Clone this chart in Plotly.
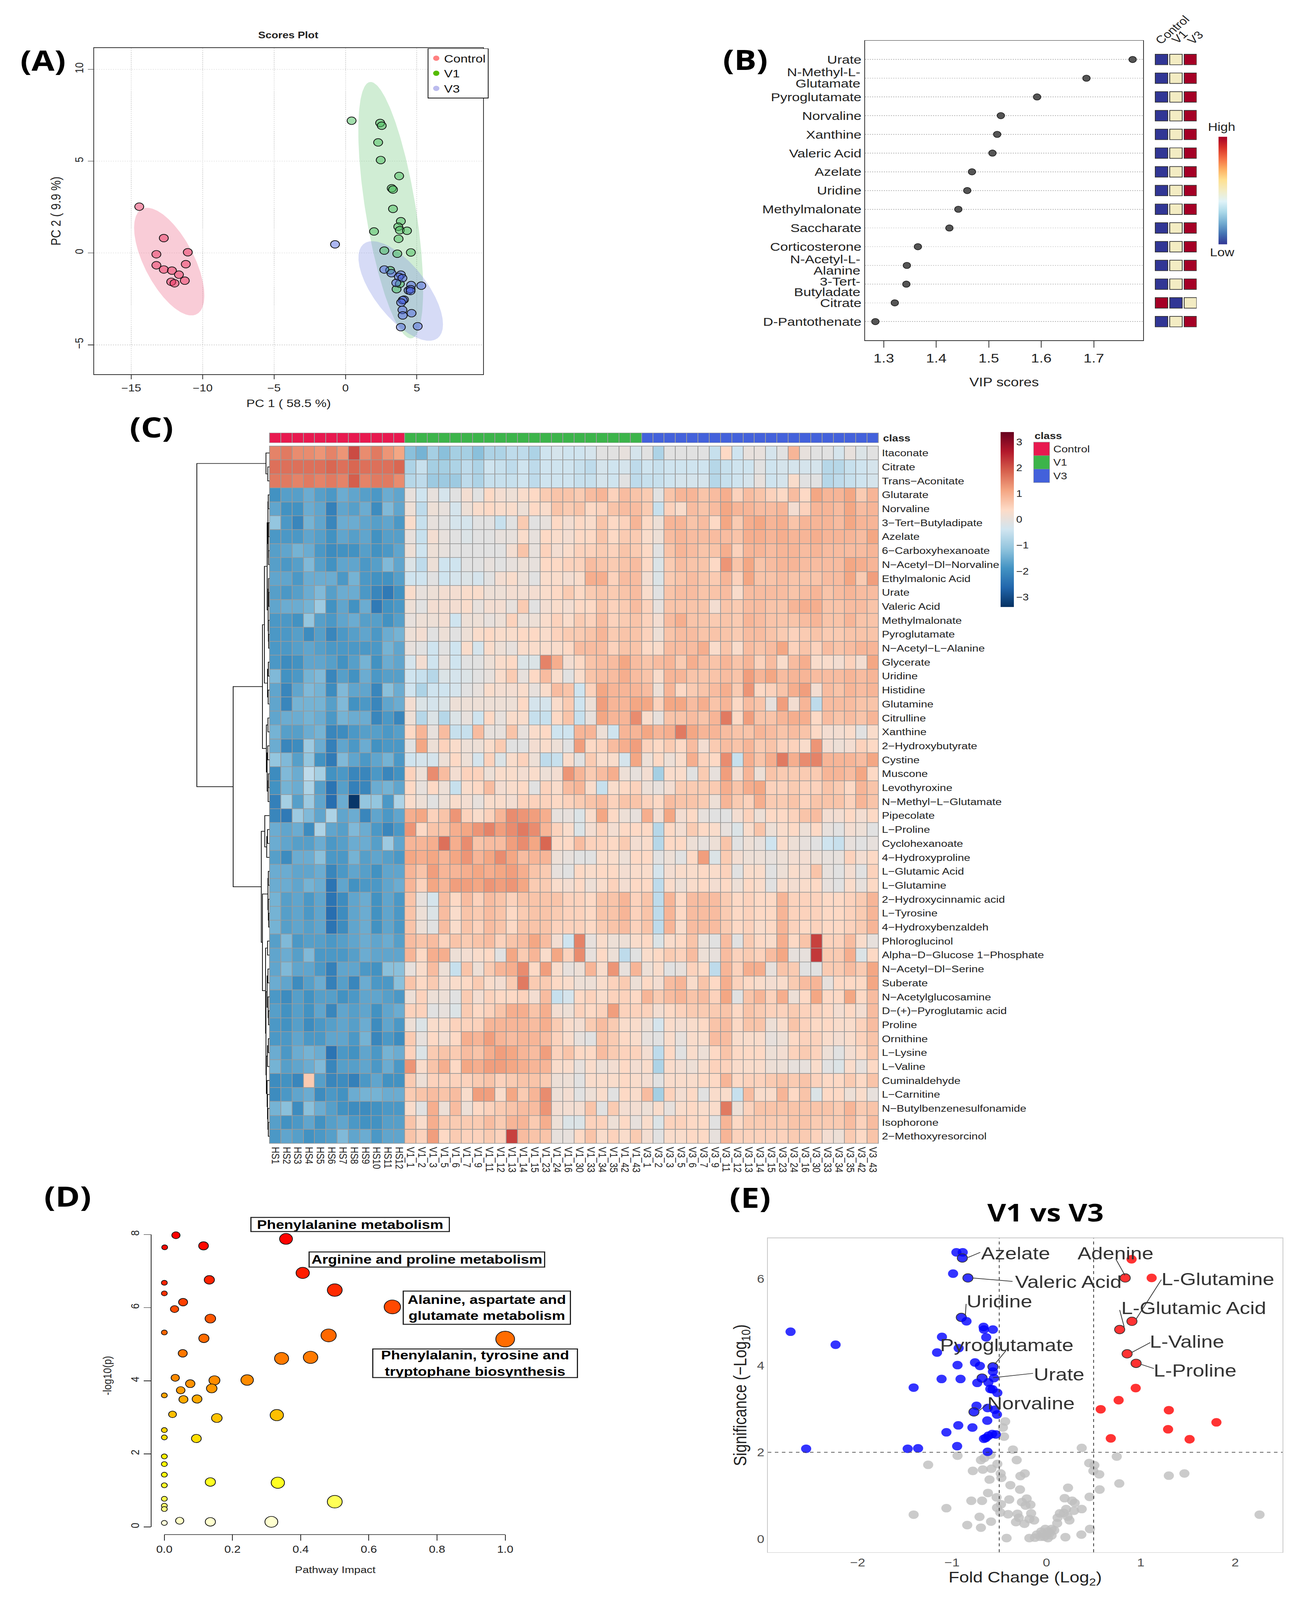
import numpy as np
import plotly.graph_objects as go

W, H = 3344, 4866
FONT = "Liberation Sans"
BOLD = "Open Sans"

# ---------- Panel A: PCA scores ----------
ctrl_pc1 = [-14.44,-12.72,-13.24,-11.04,-13.24,-12.72,-12.15,-11.18,-11.66,-12.2,-11.97,-11.25]
ctrl_pc2 = [2.52,0.81,-0.07,0.04,-0.67,-0.90,-0.96,-0.61,-1.18,-1.57,-1.65,-1.51]
v1_pc1 = [0.43,2.43,2.54,2.29,2.47,3.76,3.24,3.33,3.33,3.88,3.70,3.81,4.31,2.0,3.72,2.72,3.63,4.58,3.13,3.58,3.81]
v1_pc2 = [7.2,7.08,6.93,6.02,5.06,4.19,3.52,3.45,2.40,1.73,1.43,1.24,1.21,1.17,0.77,0.13,-0.04,0.03,-0.94,-1.97,-1.68]
v3_pc1 = [-0.73,2.72,3.22,3.88,3.74,3.99,3.56,4.6,5.31,4.42,4.56,4.56,4.10,4.01,3.90,3.99,4.01,4.63,3.88,5.06]
v3_pc2 = [0.47,-0.90,-1.10,-1.18,-1.30,-1.37,-1.63,-1.75,-1.78,-2.04,-1.97,-2.07,-2.54,-2.57,-2.70,-3.10,-3.40,-3.28,-4.04,-3.99]
# 95% region of each group: centre x, centre y, half-width, half-height, correlation
ctrl_region = (-12.34, -0.47, 2.46, 2.93, -0.63)
v1_region = (3.17, 2.33, 2.27, 6.98, -0.62)
v3_region = (3.87, -2.07, 2.96, 2.71, -0.67)

# ---------- Panel B: VIP scores ----------
vip_names = ["Urate","N-Methyl-L-|Glutamate","Pyroglutamate","Norvaline","Xanthine","Valeric Acid","Azelate","Uridine",
             "Methylmalonate","Saccharate","Corticosterone","N-Acetyl-L-|Alanine","3-Tert-|Butyladate","Citrate","D-Pantothenate"]
vip_scores = [1.774,1.686,1.592,1.523,1.516,1.507,1.468,1.459,1.442,1.425,1.365,1.344,1.343,1.321,1.284]
vip_control = [0,0,0,0,0,0,0,0,0,0,0,0,0,1,0]
vip_v1 = [.5,.5,.5,.5,.5,.5,.5,.5,.5,.5,.5,.5,.5,0,.5]
vip_v3 = [1,1,1,1,1,1,1,1,1,1,1,1,1,.5,1]

# ---------- Panel C: heatmap (z-scores x10) ----------
metabolites = ["Itaconate","Citrate","Trans−Aconitate","Glutarate","Norvaline","3−Tert−Butyladipate","Azelate","6−Carboxyhexanoate",
 "N−Acetyl−Dl−Norvaline","Ethylmalonic Acid","Urate","Valeric Acid","Methylmalonate","Pyroglutamate","N−Acetyl−L−Alanine","Glycerate",
 "Uridine","Histidine","Glutamine","Citrulline","Xanthine","2−Hydroxybutyrate","Cystine","Muscone","Levothyroxine","N−Methyl−L−Glutamate",
 "Pipecolate","L−Proline","Cyclohexanoate","4−Hydroxyproline","L−Glutamic Acid","L−Glutamine","2−Hydroxycinnamic acid","L−Tyrosine",
 "4−Hydroxybenzaldeh","Phloroglucinol","Alpha−D−Glucose 1−Phosphate","N−Acetyl−Dl−Serine","Suberate","N−Acetylglucosamine",
 "D−(+)−Pyroglutamic acid","Proline","Ornithine","L−Lysine","L−Valine","Cuminaldehyde","L−Carnitine","N−Butylbenzenesulfonamide",
 "Isophorone","2−Methoxyresorcinol"]
sample_ids = ["1","2","3","5","6","7","9","11","12","13","14","15","23","24","16","30","33","34","35","42","43"]
samples = ["HS%d" % i for i in range(1, 13)] + ["V1_" + s for s in sample_ids] + ["V3_" + s for s in sample_ids]
sample_class = [0]*12 + [1]*21 + [2]*21

hs_vals = [
[15,16,14,14,13,15,13,21,14,16,13,11],
[17,17,17,17,17,18,17,18,17,17,17,18],
[16,16,15,16,15,16,15,19,15,16,16,14],
[-19,-17,-17,-15,-17,-18,-15,-16,-17,-18,-15,-16],
[-16,-19,-19,-15,-16,-22,-16,-17,-15,-20,-13,-16],
[-11,-18,-21,-14,-16,-21,-15,-15,-16,-17,-16,-18],
[-18,-18,-18,-16,-17,-19,-16,-17,-16,-19,-17,-17],
[-17,-16,-14,-15,-18,-20,-19,-19,-17,-19,-18,-16],
[-17,-18,-17,-13,-17,-19,-16,-16,-18,-17,-13,-16],
[-16,-16,-18,-15,-15,-15,-18,-14,-18,-19,-19,-17],
[-17,-18,-17,-15,-13,-17,-15,-15,-18,-21,-23,-19],
[-16,-15,-15,-14,-10,-19,-16,-19,-15,-23,-19,-18],
[-18,-18,-19,-11,-17,-18,-16,-15,-17,-17,-19,-17],
[-18,-18,-17,-20,-17,-21,-18,-17,-16,-18,-15,-14],
[-18,-18,-17,-16,-17,-18,-18,-18,-18,-18,-14,-16],
[-18,-20,-19,-16,-16,-17,-19,-17,-14,-19,-15,-16],
[-13,-19,-18,-14,-13,-21,-17,-19,-15,-18,-17,-17],
[-16,-21,-16,-13,-14,-20,-13,-16,-16,-21,-12,-15],
[-16,-21,-14,-14,-14,-17,-13,-19,-18,-21,-16,-15],
[-16,-15,-15,-14,-15,-18,-14,-15,-15,-21,-18,-21],
[-14,-17,-17,-15,-14,-21,-20,-18,-17,-17,-18,-17],
[-15,-21,-20,-10,-15,-22,-16,-18,-15,-19,-18,-18],
[-11,-13,-17,-11,-19,-23,-13,-16,-18,-16,-14,-18],
[-20,-13,-15,-6,-9,-19,-18,-21,-21,-18,-21,-19],
[-19,-14,-15,-8,-17,-24,-17,-22,-21,-15,-14,-16],
[-22,-9,-17,-10,-16,-25,-15,-33,-11,-11,-18,-8],
[-21,-23,-10,-13,-16,-8,-16,-15,-21,-16,-18,-16],
[-15,-16,-15,-20,-8,-16,-17,-13,-15,-18,-21,-18],
[-15,-16,-17,-17,-15,-18,-17,-15,-15,-17,-10,-16],
[-17,-20,-15,-15,-12,-18,-18,-14,-17,-16,-17,-18],
[-15,-15,-16,-16,-15,-21,-18,-16,-17,-19,-16,-16],
[-15,-15,-16,-14,-15,-24,-16,-19,-18,-18,-16,-15],
[-14,-17,-16,-18,-16,-24,-20,-16,-15,-19,-16,-18],
[-14,-17,-16,-18,-16,-25,-20,-16,-15,-19,-16,-18],
[-14,-17,-16,-17,-16,-24,-20,-16,-15,-19,-16,-18],
[-17,-13,-18,-17,-17,-18,-17,-16,-15,-16,-15,-17],
[-16,-15,-17,-13,-18,-18,-18,-17,-15,-16,-16,-16],
[-16,-13,-16,-16,-18,-22,-16,-16,-18,-19,-12,-12],
[-15,-16,-20,-17,-15,-22,-17,-21,-15,-18,-18,-12],
[-18,-20,-17,-19,-17,-17,-19,-18,-16,-16,-17,-18],
[-17,-19,-17,-19,-16,-21,-16,-17,-16,-19,-16,-15],
[-18,-19,-17,-20,-18,-17,-16,-17,-15,-20,-16,-18],
[-18,-18,-16,-18,-18,-16,-16,-18,-14,-21,-18,-20],
[-15,-18,-15,-14,-15,-24,-18,-19,-16,-18,-14,-15],
[-14,-17,-16,-15,-13,-21,-17,-17,-16,-18,-15,-18],
[-20,-19,-21,6,-17,-21,-20,-22,-18,-16,-19,-19],
[-20,-18,-16,-15,-20,-18,-19,-15,-14,-14,-15,-15],
[-14,-12,-20,-12,-15,-17,-19,-20,-20,-19,-18,-18],
[-17,-19,-18,-16,-19,-17,-16,-18,-19,-19,-17,-17],
[-18,-16,-17,-19,-18,-17,-13,-16,-15,-18,-16,-16],
]
v1_vals = [
[-12,-14,-9,-12,-9,-9,-12,-8,-8,-6,-6,-8,-4,-3,-4,-4,-3,-1,-1,0,-3],
[-8,-5,-9,-9,-8,-6,-8,-4,-5,-6,-4,-6,-4,-4,-4,-5,-6,-3,-4,-3,-6],
[-7,-6,-10,-10,-10,-6,-8,-5,-5,-5,-4,-6,-4,-4,-4,-5,-5,-3,-4,-1,-6],
[0,-4,0,-3,-1,2,-1,4,2,1,3,4,6,7,7,6,8,9,5,8,7],
[1,-6,1,0,-3,1,3,4,3,3,1,4,3,7,6,7,4,5,7,8,8],
[3,-5,0,-1,-3,-3,-1,-1,-5,-1,6,-1,0,4,2,4,3,7,4,5,9],
[0,-5,2,0,-1,-2,-1,-1,0,0,3,0,4,3,2,4,4,7,4,6,6],
[1,-4,1,0,-1,-1,-1,-1,-1,2,7,0,5,2,3,5,5,6,5,7,6],
[-2,-6,1,-4,-4,-1,-1,0,-1,0,1,0,4,4,5,5,8,7,6,7,8],
[-4,-4,-1,-4,-3,-2,-3,-1,2,3,1,-1,3,3,2,3,10,10,5,8,8],
[3,0,1,2,2,3,3,1,1,2,2,2,3,4,6,4,6,7,6,7,8],
[1,-1,2,2,2,3,0,2,2,0,6,-1,2,3,2,4,4,7,5,6,8],
[0,1,1,2,-4,1,1,0,1,5,1,1,3,5,3,6,5,8,5,6,7],
[1,2,-1,1,-1,1,3,4,3,3,4,4,3,5,6,6,7,9,6,7,7],
[0,-1,-4,-1,-4,3,-3,3,1,0,3,3,3,3,4,8,8,8,5,7,7],
[-3,2,-4,0,-4,-1,-1,1,3,4,-2,-2,15,10,2,4,7,8,8,11,8],
[-4,-5,-7,-2,-3,-2,-1,0,3,6,0,4,8,3,-1,3,7,8,8,10,8],
[-4,-8,-4,-4,-3,-1,0,3,2,2,3,0,3,8,7,-4,5,11,9,9,9],
[2,-2,-3,-2,1,1,1,1,1,1,4,-3,-3,3,6,-4,1,12,9,9,11],
[1,-7,-2,-7,-2,0,-4,4,0,3,3,-5,-5,4,7,-5,0,11,9,9,14],
[4,9,0,8,-5,-5,8,0,0,7,0,3,4,-4,-4,9,9,1,-4,9,9],
[-1,11,1,5,3,1,1,3,6,-1,-1,2,3,1,-1,12,4,5,8,10,12],
[-4,-3,-3,1,4,1,-3,5,-2,3,5,1,-6,-5,3,-1,6,3,3,-3,11],
[5,1,14,8,2,5,5,1,3,3,2,3,1,2,13,9,6,8,10,1,0],
[4,0,4,1,-5,3,4,8,2,3,4,-1,5,3,8,9,3,-5,3,4,5],
[3,1,-1,1,3,2,0,3,3,2,5,5,5,4,5,6,7,8,5,7,7],
[10,11,5,7,13,5,3,5,9,14,13,12,10,0,0,-2,3,11,4,1,0],
[13,4,7,7,10,11,13,15,12,14,16,14,9,5,3,-2,2,5,2,4,4],
[9,9,10,17,10,14,7,8,8,12,14,11,18,4,4,8,5,5,4,6,2],
[11,10,11,9,11,13,9,11,14,11,8,9,9,1,0,-1,-1,3,3,1,4],
[9,7,12,9,9,10,11,10,11,12,10,7,6,0,-1,4,3,4,4,2,3],
[9,5,11,9,12,12,11,13,12,13,11,6,6,3,2,4,1,3,5,2,4],
[7,0,-3,8,4,8,5,8,7,5,7,7,7,7,5,5,4,7,7,9,5],
[7,1,-2,8,3,7,6,8,7,4,6,7,7,6,5,5,4,7,7,9,5],
[7,1,-1,8,3,7,5,8,7,4,7,7,7,5,5,5,4,6,7,8,5],
[8,7,8,5,7,6,7,8,5,7,8,11,8,2,-4,15,0,3,1,1,3],
[9,4,10,10,1,2,3,4,-1,11,6,9,3,11,5,14,0,4,1,-6,-1],
[0,3,8,1,-5,7,1,6,9,10,14,4,12,3,0,1,9,3,13,0,9],
[7,4,6,2,3,4,6,3,2,6,16,6,6,4,3,1,1,3,5,6,1],
[1,5,1,1,-1,6,2,5,4,4,5,2,8,-5,-3,4,5,3,5,5,4],
[5,5,-1,0,-2,6,4,5,7,10,10,7,10,2,1,5,4,5,12,5,5],
[1,-2,3,3,5,5,5,9,9,9,9,8,10,6,3,2,6,8,6,3,3],
[6,0,4,2,4,10,9,12,9,8,9,9,8,5,3,0,-1,7,6,4,3],
[5,-2,6,7,6,8,7,10,12,11,9,8,12,5,7,4,4,8,6,5,5],
[13,3,7,10,4,11,10,12,12,11,10,9,9,3,3,0,3,1,2,4,2],
[6,1,5,5,5,5,6,7,5,6,7,7,6,1,1,-1,3,3,3,4,3],
[6,7,8,7,8,3,12,12,3,11,6,9,14,1,2,-1,1,3,-1,4,3],
[3,-1,10,1,8,1,4,5,6,7,8,8,13,2,2,2,7,-1,6,2,2],
[7,3,10,6,6,6,6,8,6,9,9,6,10,1,-2,-2,5,5,1,4,0],
[7,5,12,4,6,5,5,6,5,22,8,7,7,0,0,4,7,3,5,3,6],
]
v3_vals = [
[-1,-8,-1,-1,-1,-1,-5,4,-4,0,0,-3,-1,9,0,-1,-1,-3,0,-2,-1],
[-4,-5,-4,-4,-4,-4,-7,-5,-4,-4,-1,-4,-3,-3,-3,-3,-7,-7,-5,-4,-3],
[-5,-5,-4,-3,-3,-3,-7,-5,-4,-3,0,-4,-3,3,-1,-1,-7,-6,-5,-4,-3],
[6,-1,7,9,9,7,8,10,5,8,7,5,4,8,4,11,9,9,11,6,9],
[6,-5,5,3,8,7,8,11,9,9,8,8,9,2,5,9,9,8,11,8,9],
[4,1,9,9,7,8,4,11,6,10,11,9,10,7,9,9,9,8,11,9,9],
[3,1,8,9,8,8,8,8,7,10,10,9,10,9,9,10,9,9,9,8,11],
[4,-1,7,9,8,7,7,10,5,9,9,8,9,9,8,9,8,8,8,8,9],
[4,-2,6,8,7,7,4,13,7,11,7,8,9,9,8,8,8,8,11,10,9],
[2,-2,6,7,8,7,6,9,5,11,7,7,8,7,7,7,8,8,11,6,12],
[3,-1,7,8,8,7,7,8,3,8,8,8,8,7,8,9,7,8,9,8,8],
[5,0,7,7,7,7,2,7,6,8,8,7,7,9,10,10,7,7,8,8,7],
[5,2,8,10,7,7,6,7,6,9,8,7,7,7,8,9,7,7,9,7,7],
[5,1,7,8,8,7,7,7,6,8,8,7,6,5,6,7,6,6,7,7,7],
[4,3,8,8,8,10,3,7,3,8,7,8,11,5,7,5,8,7,8,9,9],
[7,8,9,6,10,8,7,9,7,9,5,8,3,8,10,3,3,2,5,2,11],
[7,3,9,9,7,7,7,8,7,12,9,11,8,9,9,8,8,8,9,8,9],
[8,1,9,4,6,7,8,10,6,13,4,5,7,10,12,2,8,7,9,8,9],
[11,5,11,11,8,10,7,9,4,8,7,0,12,2,9,-6,8,8,8,7,7],
[3,0,7,7,8,7,9,16,4,12,7,7,9,10,10,4,8,7,8,7,9],
[11,9,10,16,11,9,9,8,7,7,9,8,7,8,7,4,2,2,3,-1,3],
[5,4,6,4,8,2,6,8,7,9,6,7,5,5,3,13,2,1,2,5,4],
[1,4,1,3,10,5,4,14,-5,10,7,10,16,10,14,15,9,9,9,8,11],
[2,-9,3,3,-1,6,0,12,2,9,1,7,6,6,6,6,9,9,8,11,4],
[1,0,2,6,6,6,6,10,7,10,11,5,5,6,5,5,7,6,4,9,7],
[5,4,8,7,7,6,1,9,6,5,10,6,6,7,5,7,7,7,5,9,7],
[10,2,11,2,4,0,-1,-1,2,5,1,4,4,5,7,8,2,2,4,2,4],
[4,-7,4,2,6,4,3,0,-2,3,7,1,3,4,1,4,0,-1,2,1,-1],
[3,-7,4,4,1,0,1,7,-1,1,0,-4,3,1,0,-1,-4,-5,0,-1,0],
[4,-1,1,-1,4,12,-2,6,2,1,1,0,1,2,2,1,0,0,5,2,4],
[3,-3,2,3,3,4,3,5,-1,3,3,-1,1,3,2,7,0,-1,2,-1,5],
[4,-6,3,1,3,4,2,4,1,4,3,-1,3,2,3,4,0,-1,3,0,4],
[7,-6,9,4,8,8,8,6,4,5,4,4,9,5,5,5,4,4,5,6,9],
[7,-6,9,4,8,8,8,6,4,5,4,4,9,5,5,5,4,4,5,6,9],
[7,-6,9,3,8,8,8,6,4,5,3,4,9,5,4,5,4,4,5,6,9],
[4,-2,3,4,7,1,-1,8,-1,6,4,3,10,4,7,22,5,5,8,3,0],
[3,4,6,5,8,1,0,8,5,6,5,8,11,0,0,23,6,6,10,-2,4],
[1,3,-1,0,5,4,-6,9,5,10,10,0,7,6,-1,-1,6,6,8,6,11],
[4,2,8,9,3,7,4,10,5,4,3,2,3,6,8,9,0,4,4,4,11],
[9,6,8,9,7,8,5,11,-1,7,9,5,10,1,4,11,4,4,11,4,8],
[5,2,4,5,6,6,6,7,4,7,6,5,5,6,5,5,4,2,4,2,8],
[1,-3,3,2,3,4,7,8,4,7,7,1,3,7,5,4,4,3,3,5,8],
[0,-1,3,0,3,3,8,8,3,3,3,0,1,4,5,5,3,2,3,5,7],
[2,-6,4,-1,3,1,4,7,4,4,4,1,2,5,6,5,1,-1,2,4,7],
[3,-8,3,2,1,3,5,5,3,3,3,1,1,0,0,3,-1,-2,3,0,4],
[2,-1,3,3,3,4,4,9,4,5,5,6,7,6,7,5,4,4,6,4,7],
[8,-9,5,2,4,-1,3,3,-5,8,3,3,9,4,7,-2,4,4,1,3,0],
[1,3,0,3,4,3,3,16,1,5,7,7,7,7,7,7,7,6,9,6,7],
[3,-2,5,5,4,4,-1,9,4,6,6,6,6,7,7,6,6,6,8,5,8],
[2,-1,3,3,4,4,0,9,5,5,5,5,5,6,6,5,2,1,6,4,7],
]
# dendrogram: (merge height, left, right), leaves are row numbers
top_tree = (9, 0, (4.4, 1, 2))
upper_a = (13, (6, (4, (3.2, 3, 4), (3, (2.4, 5, 6), (2.6, 7, 8))),
                (3.5, (2.6, 9, (2, 10, 11)), (2.8, 12, (2.2, 13, 14)))),
           (5, (3, 15, 16), (3.4, 17, 18)))
upper_b = (8, (4, 19, 20), (6, (4.5, 21, 22), (3.5, (2.8, 23, 24), 25)))
lower_c = (12, 26, (7, (5, 27, 28), 29))
lower_d = (18, (4, (3, 30, 31), (3, 32, (2, 33, 34))),
           (10, (5, 35, 36), (9, (6, (4, 37, 38), (3.5, 39, (2.5, 40, 41))),
                              (8, (5, (3, 42, 43), 44), (6, 45, (5, 46, (4, 47, (3, 48, 49))))))))
row_tree = (186, top_tree, (93, (18, upper_a, upper_b), (21, lower_c, lower_d)))

# ---------- Panel D: pathway analysis ----------
path_impact = [.034,.001,.115,.357,.406,.5,.132,0,0,.055,.03,.135,.669,0,.116,.482,1.0,.054,.344,.429,.032,.076,.147,.243,.048,.139,0,.056,.096,.024,.154,.33,0,0,.094,0,0,0,0,.135,.333,0,.5,0,0,0,.045,.135,.314]
path_logp = [7.98,7.65,7.69,7.88,6.95,6.48,6.76,6.68,6.39,6.15,5.96,5.70,6.02,5.32,5.16,5.24,5.14,4.75,4.61,4.64,4.08,3.92,4.01,4.02,3.74,3.79,3.60,3.49,3.50,3.08,2.98,3.06,2.65,2.45,2.42,1.93,1.72,1.43,1.14,1.23,1.21,.77,.69,.58,.49,.11,.17,.14,.14]
path_size = [21,15,25,33,34,38,26,15,15,23,21,27,42,15,26,39,48,23,36,37,21,24,28,32,22,27,15,23,25,20,27,34,15,15,25,15,15,15,15,26,34,15,38,15,15,15,21,26,33]
path_labels = ["Phenylalanine metabolism","Arginine and proline metabolism","Alanine, aspartate and<br>glutamate metabolism","Phenylalanin, tyrosine and<br>tryptophane biosynthesis"]

# ---------- Panel E: volcano ----------
blue_fc = [-.954,-.887,-.891,-.989,-.832,-.902,-.847,-.666,-.662,-.567,-.638,-1.107,-2.711,-2.234,-1.159,-.93,-.757,-.705,-.942,-.567,-.567,-.556,-.682,-1.111,-.91,-.733,-.615,-1.407,-.595,-.571,-.52,-.741,-.623,-.548,-.768,-.524,-.627,-.934,-.784,-1.06,-.575,-.536,-.615,-.642,-.662,-.946,-1.36,-1.47,-2.546,-.623]
blue_sig = [6.61,6.61,6.48,6.12,6.02,5.11,5.02,4.89,4.83,4.83,4.65,4.66,4.78,4.48,4.30,4.40,4.07,3.99,4.01,3.97,3.86,3.71,3.71,3.69,3.69,3.60,3.61,3.49,3.46,3.45,3.37,3.07,3.02,2.98,2.93,2.87,2.73,2.62,2.57,2.46,2.42,2.41,2.38,2.33,2.31,2.14,2.09,2.08,2.08,2.01]
blue_labelled = [2,4,5,19,22,34]
red_fc = [.902,.835,1.115,.906,.776,.855,.95,.946,.765,.575,1.297,1.801,1.289,.682,1.517]
red_sig = [6.45,6.02,6.02,5.02,4.83,4.27,4.05,3.48,3.20,2.99,2.97,2.69,2.53,2.32,2.30]
red_labelled = [1,3,4,5,6]
grey_fc = [-.942,-.591,-.355,-.437,-.461,-.449,.374,.745,-.315,-.658,-.694,-.52,-1.253,.453,.508,-.78,-.674,-.583,-.485,-.477,-.229,-.276,.497,.56,1.297,1.462,-.603,.772,-.382,.229,-.28,.564,-.619,-.528,.457,.193,-.209,-.394,-.796,-.682,-.26,.272,.3,-.169,-.221,-.481,-.524,-1.06,.209,.374,.292,-.489,-.162,-1.407,2.258,-.709,-.406,-.307,.142,.185,.118,.225,.244,-.13,-.181,-.292,-.323,-.587,-.233,-.839,-.694,.114,.461,.083,.055,-.012,-.055,-.102,.37,.201,-.422,-.181,-.122,-.004,.016,-.024,.055,.035,-.063,-.043,.016]
grey_sig = [1.92,1.94,2.06,2.71,2.57,2.36,2.10,1.90,1.82,1.87,1.82,1.73,1.71,1.75,1.70,1.57,1.60,1.62,1.51,1.41,1.51,1.45,1.57,1.49,1.46,1.51,1.37,1.28,1.24,1.18,1.14,1.14,1.06,.96,.97,.94,.93,.91,.88,.88,.85,.88,.83,.79,.77,.80,.72,.71,.69,.69,.65,.61,.59,.56,.56,.51,.57,.58,.59,.60,.49,.51,.43,.43,.46,.49,.39,.40,.35,.32,.26,.36,.23,.20,.23,.23,.17,.10,.10,.04,.02,.02,.03,.08,.02,.05,.08,.14,.05,.12,.17]
# name, text x, text y, connector start x, y, connector end x, y
volcano_labels = [
 ("Azelate",-.327,6.59,-.701,6.61,-.832,6.49),
 ("Adenine",.733,6.59,.737,6.45,.832,6.08),
 ("Valeric Acid",.233,5.93,-.359,5.94,-.784,6.02),
 ("L-Glutamine",1.817,6.0,1.218,5.98,.95,5.07),
 ("Uridine",-.497,5.48,-.851,5.42,-.859,5.16),
 ("L-Glutamic Acid",1.561,5.33,.776,5.28,.824,4.89),
 ("L-Valine",1.49,4.56,1.10,4.53,.902,4.30),
 ("Pyroglutamate",-.418,4.47,-.43,4.34,-.548,4.03),
 ("L-Proline",1.576,3.89,1.139,3.93,1.0,4.03),
 ("Urate",.134,3.80,-.142,3.82,-.564,3.72),
 ("Norvaline",-.162,3.13,-.627,3.11,-.713,2.96),
]

# ---------- helpers ----------
for name, rows, n in (("hs", hs_vals, 12), ("v1", v1_vals, 21), ("v3", v3_vals, 21)):
    bad = [i for i, r in enumerate(rows) if len(r) != n]
    assert len(rows) == 50 and not bad, (name, len(rows), bad)

def dx(a, b): return [a / W, b / W]
def dy(top, bottom): return [1 - bottom / H, 1 - top / H]
def tf(size, color="#222", family=FONT): return dict(size=size, color=color, family=family)

annotations, shapes = [], []
def text(px, py, s, size, color="#222", family=FONT, angle=0, xa="center", ya="middle", **kw):
    annotations.append(dict(xref="paper", yref="paper", x=px / W, y=1 - py / H, text=s, showarrow=False,
                            font=tf(size, color, family), textangle=angle, xanchor=xa, yanchor=ya, **kw))

def region(params):
    cx, cy, ax, ay, rho = params
    t = np.linspace(0, 2 * np.pi, 200)
    return cx + ax * np.cos(t), cy + ay * (rho * np.cos(t) + np.sqrt(1 - rho ** 2) * np.sin(t))

fig = go.Figure()

# ---------- A ----------
for params, col in ((ctrl_region, "rgba(238,120,150,0.38)"), (v1_region, "rgba(110,200,120,0.32)"), (v3_region, "rgba(120,135,225,0.30)")):
    ex, ey = region(params)
    fig.add_trace(go.Scatter(x=ex, y=ey, mode="lines", fill="toself", fillcolor=col, line=dict(width=0), showlegend=False, hoverinfo="skip"))
for xs, ys, col in ((ctrl_pc1, ctrl_pc2, "rgba(235,50,95,0.5)"), (v1_pc1, v1_pc2, "rgba(70,190,90,0.5)"), (v3_pc1, v3_pc2, "rgba(70,95,225,0.45)")):
    fig.add_trace(go.Scatter(x=xs, y=ys, mode="markers", showlegend=False,
                             marker=dict(size=23, color=col, line=dict(color="#111", width=2))))
for nm, col in (("Control", "#ff8080"), ("V1", "#55bb00"), ("V3", "#bbbbee")):
    fig.add_trace(go.Scatter(x=[None], y=[None], mode="markers", name=nm, marker=dict(size=24, color=col)))

axis_a = dict(showline=True, mirror=True, linecolor="#333", linewidth=2, ticks="outside", ticklen=14, tickcolor="#333", tickwidth=2,
              showgrid=True, gridcolor="#d5d5d5", griddash="dot", gridwidth=2, zeroline=False, tickfont=tf(30))
fig.update_layout(
    xaxis=dict(domain=dx(241, 1237), range=[-17.6, 9.64], tickvals=[-15, -10, -5, 0, 5], anchor="y",
               title=dict(text="PC 1 ( 58.5 %)", font=tf(33), standoff=20), **axis_a),
    yaxis=dict(domain=dy(146, 1138), range=[-6.6, 11.16], tickvals=[-5, 0, 5, 10], tickangle=-90, anchor="x",
               title=dict(text="PC 2 ( 9.9 %)", font=tf(35), standoff=20), **axis_a),
)
text(738, 106, "<b>Scores Plot</b>", 28)
text(110, 182, "<b>(A)</b>", 85, "#000", BOLD)

# ---------- B ----------
vip_rows = list(range(15, 0, -1))
single_rows = [r for r, n in zip(vip_rows, vip_names) if "|" not in n]
single_names = [n for n in vip_names if "|" not in n]
double_rows = [r for r, n in zip(vip_rows, vip_names) if "|" in n]
for r in double_rows:
    shapes.append(dict(type="line", xref="x2 domain", yref="y2", x0=0, x1=1, y0=r, y1=r, layer="below", line=dict(color="#bbbbbb", width=2, dash="dot")))
fig.add_trace(go.Scatter(x=vip_scores, y=vip_rows, xaxis="x2", yaxis="y2", mode="markers", showlegend=False,
                         marker=dict(size=19, color="#555", line=dict(color="#222", width=2))))
vip_scale = [[0, "#313695"], [.1, "#4575b4"], [.2, "#74add1"], [.3, "#abd9e9"], [.4, "#e0f3f8"], [.5, "#f3ecc3"],
             [.6, "#fee090"], [.7, "#fdae61"], [.8, "#f46d43"], [.9, "#d73027"], [1, "#a50026"]]
for i, lv in enumerate((vip_control, vip_v1, vip_v3)):
    marker = dict(size=32, symbol="square", color=lv, cmin=0, cmax=1, colorscale=vip_scale, line=dict(color="#333", width=2))
    if i == 0:
        marker["colorbar"] = dict(x=3120 / W, xanchor="left", y=1 - 416 / H, yanchor="top", lenmode="pixels", len=327, ypad=0, xpad=0,
                                  thickness=22, thicknessmode="pixels", showticklabels=False, ticks="", outlinewidth=0)
    fig.add_trace(go.Scatter(x=[i] * 15, y=vip_rows, xaxis="x3", yaxis="y3", mode="markers", showlegend=False, marker=marker))
fig.update_layout(
    xaxis2=dict(domain=dx(2215, 2927), range=[1.2644, 1.794], tickvals=[1.3, 1.4, 1.5, 1.6, 1.7], tickformat=".1f", anchor="y2", showline=True, mirror=True,
                linecolor="#333", linewidth=2, ticks="outside", ticklen=20, tickcolor="#333", tickwidth=2, showgrid=False, zeroline=False,
                tickfont=tf(38), title=dict(text="VIP scores", font=tf(37), standoff=40)),
    yaxis2=dict(domain=dy(124, 1035), range=[0, 16], tickvals=single_rows, ticktext=single_names, anchor="x2", showline=True, mirror=True,
                linecolor="#333", linewidth=2, ticks="", showgrid=True, gridcolor="#bbbbbb", griddash="dot", gridwidth=2, zeroline=False,
                tickfont=tf(36)),
    xaxis3=dict(domain=dx(2957, 3064), range=[-.46, 2.43], visible=False, anchor="y3"),
    yaxis3=dict(domain=dy(124, 1035), range=[0, 16], visible=False, anchor="x3"),
)
row_px = 30 + 198 / 1.307
row_step = 74.36 / 1.307
line_offsets = {"N-Methyl-L-|Glutamate": (-19, 15), "N-Acetyl-L-|Alanine": (-19, 15), "3-Tert-|Butyladate": (-8, 24)}
for nm, row in zip(vip_names, range(15)):
    if "|" in nm:
        a, b = nm.split("|")
        o1, o2 = line_offsets[nm]
        text(2205, row_px + row * row_step + o1, a, 36, xa="right")
        text(2205, row_px + row * row_step + o2, b, 36, xa="right")
for nm, px, py in (("Control", 3002, 91), ("V1", 3020, 112), ("V3", 3060, 114)):
    text(px, py, nm, 33, angle=-45)
text(3128, 386, "High", 34)
text(3129, 767, "Low", 34)
text(1908, 180, "<b>(B)</b>", 85, "#000", BOLD)

# ---------- C ----------
z = [[v / 10 for v in a + b + c] for a, b, c in zip(hs_vals, v1_vals, v3_vals)]
heat_scale = [[i / 9, c] for i, c in enumerate(["#053061", "#2166ac", "#4393c3", "#92c5de", "#d1e5f0", "#fddbc7", "#f4a582", "#d6604d", "#b2182b", "#67001f"])]
class_cols = ["#E8194F", "#3CB44A", "#4361DB"]
class_scale = [[0, class_cols[0]], [1 / 3, class_cols[0]], [1 / 3, class_cols[1]], [2 / 3, class_cols[1]], [2 / 3, class_cols[2]], [1, class_cols[2]]]
GRID = "#9a9a9a"
fig.add_trace(go.Heatmap(z=z, xaxis="x4", yaxis="y4", colorscale=heat_scale, zmin=-3.38, zmax=3.38, xgap=2, ygap=2, hoverinfo="skip",
                         colorbar=dict(x=2562 / W, xanchor="left", y=1 - 1314 / H, yanchor="top", lenmode="pixels", len=532, thickness=34,
                                       thicknessmode="pixels", ypad=0, xpad=0, outlinewidth=0, ticks="", tickvals=[-3, -2, -1, 0, 1, 2, 3],
                                       tickfont=tf(28), ticklabelposition="outside")))
fig.add_trace(go.Heatmap(z=[sample_class], xaxis="x5", yaxis="y5", colorscale=class_scale, zmin=0, zmax=2, xgap=2, ygap=0, showscale=False, hoverinfo="skip"))
fig.add_trace(go.Heatmap(z=[[0], [1], [2]], y=["Control", "V1", "V3"], xaxis="x7", yaxis="y7", colorscale=class_scale, zmin=0, zmax=2, ygap=1, showscale=False, hoverinfo="skip"))
dendro_x, dendro_y = [], []
def walk(node):
    if isinstance(node, int):
        return 0, node
    h, a, b = node
    ha, ra = walk(a)
    hb, rb = walk(b)
    dendro_x.extend([ha, h, h, hb, None])
    dendro_y.extend([ra, ra, rb, rb, None])
    return h, (ra + rb) / 2
walk(row_tree)
fig.add_trace(go.Scatter(x=dendro_x, y=dendro_y, xaxis="x6", yaxis="y6", mode="lines", showlegend=False, line=dict(color="#111", width=2), hoverinfo="skip"))
hidden = dict(showgrid=False, zeroline=False, showline=False, ticks="")
fig.update_layout(
    xaxis4=dict(domain=dx(690, 2249), range=[-.5, 53.5], tickvals=list(range(54)), ticktext=samples, tickangle=90, tickfont=tf(27), ticklabelstandoff=10, anchor="y4", **hidden),
    yaxis4=dict(domain=dy(1356.5, 3477), range=[49.5, -.5], tickvals=list(range(50)), ticktext=metabolites, side="right", tickfont=tf(29), ticklabelstandoff=8, anchor="x4", **hidden),
    xaxis5=dict(domain=dx(690, 2249), range=[-.5, 53.5], visible=False, anchor="y5"),
    yaxis5=dict(domain=dy(1317, 1346), range=[-.5, .5], visible=False, anchor="x5"),
    xaxis6=dict(domain=dx(490, 690), range=[200, 0], visible=False, anchor="y6"),
    yaxis6=dict(domain=dy(1356.5, 3477), range=[49.5, -.5], visible=False, anchor="x6"),
    xaxis7=dict(domain=dx(2647, 2687), visible=False, anchor="y7"),
    yaxis7=dict(domain=dy(1345, 1467.5), autorange="reversed", side="right", tickfont=tf(29), ticklabelstandoff=9, anchor="x7", **hidden),
)
for xa_, ya_ in (("x4", "y4"), ("x5", "y5"), ("x7", "y7")):
    shapes.append(dict(type="rect", layer="below", xref=xa_ + " domain", yref=ya_ + " domain", x0=0, x1=1, y0=0, y1=1,
                       fillcolor=GRID, line=dict(color=GRID, width=2)))
text(2259, 1332, "<b>class</b>", 28, xa="left")
text(2647, 1325, "<b>class</b>", 28, xa="left")
text(388, 1297, "<b>(C)</b>", 85, "#000", BOLD)

# ---------- D ----------
heat_stops = [[0, "#ffffff"], [.02, "#ffffc8"], [.09, "#ffff50"], [.2, "#ffff00"], [.3, "#ffe000"], [.38, "#ffc000"], [.44, "#ffa800"], [.5, "#ff8c00"],
              [.58, "#ff7a00"], [.65, "#ff6a00"], [.75, "#ff4a00"], [.81, "#ff2a00"], [1, "#ff0000"]]
fig.add_trace(go.Scatter(x=path_impact, y=path_logp, xaxis="x8", yaxis="y8", mode="markers", showlegend=False,
                         marker=dict(size=path_size, color=path_logp, cmin=0, cmax=8, colorscale=heat_stops, opacity=1, line=dict(color="#111", width=2))))
fig.update_layout(
    xaxis8=dict(domain=dx(387, 1330), range=[-.0387, 1.0418], tickvals=[0, .2, .4, .6, .8, 1], tickformat=".1f", ticks="outside", ticklen=18, tickwidth=2, tickcolor="#222",
                showgrid=False, zeroline=False, showline=False, tickfont=tf(30), anchor="y8", title=dict(text="Pathway Impact", font=tf(29), standoff=36)),
    yaxis8=dict(domain=dy(3700, 4667), range=[-.208, 8.49], tickvals=[0, 2, 4, 6, 8], tickangle=-90, ticks="outside", ticklen=18, tickwidth=2, tickcolor="#222",
                showgrid=False, zeroline=False, showline=False, tickfont=tf(30), anchor="x8", title=dict(text="-log10(p)", font=tf(30), standoff=34)),
)
shapes.append(dict(type="line", xref="x8 domain", yref="y8", x0=0, x1=0, y0=0, y1=8, line=dict(color="#222", width=2)))
shapes.append(dict(type="line", xref="x8", yref="y8 domain", x0=0, x1=1, y0=0, y1=0, line=dict(color="#222", width=2)))
for s, (px, py, w, h) in zip(path_labels, ((896, 3724, 505, 40), (1093, 3830, 600, 43), (1246, 3977, 425, 98), (1216, 4146, 521, 84))):
    text(px, py, "<b>" + s + "</b>", 38, "#000", bordercolor="#222", borderwidth=3, borderpad=0, width=w, height=h, bgcolor="rgba(255,255,255,0)")
text(173, 3637, "<b>(D)</b>", 85, "#000", BOLD)

# ---------- E ----------
fig.add_trace(go.Scatter(x=grey_fc, y=grey_sig, xaxis="x9", yaxis="y9", mode="markers", showlegend=False,
                         marker=dict(size=26, color="rgba(190,190,190,0.8)", line=dict(width=0))))
fig.add_trace(go.Scatter(x=blue_fc, y=blue_sig, xaxis="x9", yaxis="y9", mode="markers", showlegend=False,
                         marker=dict(size=26, color="rgba(0,0,255,0.8)", line=dict(color="#333", width=[2 if i in blue_labelled else 0 for i in range(len(blue_fc))]))))
fig.add_trace(go.Scatter(x=red_fc, y=red_sig, xaxis="x9", yaxis="y9", mode="markers", showlegend=False,
                         marker=dict(size=26, color="rgba(255,0,0,0.8)", line=dict(color="#333", width=[2 if i in red_labelled else 0 for i in range(len(red_fc))]))))
axis_e = dict(showline=True, mirror=True, linecolor="#c8c8c8", linewidth=2, ticks="", showgrid=False, zeroline=False, tickfont=tf(34, "#4d4d4d"))
fig.update_layout(
    xaxis9=dict(domain=dx(1966, 3284), range=[-2.952, 2.502], tickvals=[-2, -1, 0, 1, 2], anchor="y9",
                title=dict(text="Fold Change (Log<sub>2</sub>)", font=tf(45), standoff=12), **axis_e),
    yaxis9=dict(domain=dy(3765.5, 4720.7), range=[-.306, 6.938], tickvals=[0, 2, 4, 6], anchor="x9",
                title=dict(text="Significance (−Log<sub>10</sub>)", font=tf(46), standoff=12), **axis_e),
)
for v in (-.5, .5):
    shapes.append(dict(type="line", xref="x9", yref="y9 domain", x0=v, x1=v, y0=0, y1=1, line=dict(color="#333", width=2, dash="dash")))
shapes.append(dict(type="line", xref="x9 domain", yref="y9", x0=0, x1=1, y0=2, y1=2, line=dict(color="#333", width=2, dash="dash")))
for nm, tx, ty, x0, y0, x1, y1 in volcano_labels:
    shapes.append(dict(type="line", xref="x9", yref="y9", x0=x0, y0=y0, x1=x1, y1=y1, line=dict(color="#333", width=2)))
    annotations.append(dict(xref="x9", yref="y9", x=tx, y=ty, text=nm, showarrow=False, font=tf(53, "#333"), xanchor="center", yanchor="middle"))
text(2677, 3686, "<b>V1 vs V3</b>", 74, "#000", BOLD)
text(1920, 3640, "<b>(E)</b>", 85, "#000", BOLD)

fig.update_layout(
    width=W, height=H, margin=dict(l=0, r=0, t=0, b=0), autosize=False,
    paper_bgcolor="white", plot_bgcolor="rgba(0,0,0,0)", font=dict(family=FONT),
    annotations=annotations, shapes=shapes,
    legend=dict(x=1095 / W, xanchor="left", y=1 - 147 / H, yanchor="top", bordercolor="#111", borderwidth=2, bgcolor="white",
                font=tf(33, "#111"), tracegroupgap=0, itemwidth=30),
)
# The page must fit the window it is photographed in: if that window is shorter than the chart, fit the chart to its height.
fit_js = """
document.body.style.margin='0';
document.documentElement.style.overflow='hidden';
var s=Math.min(1,window.innerHeight/%d);
var g=document.querySelector('.plotly-graph-div');
g.style.transformOrigin='0 0';
g.style.transform='scaleY('+s+')';
""" % H
fig.write_html("out.html", post_script=fit_js, config={"displayModeBar": False})
